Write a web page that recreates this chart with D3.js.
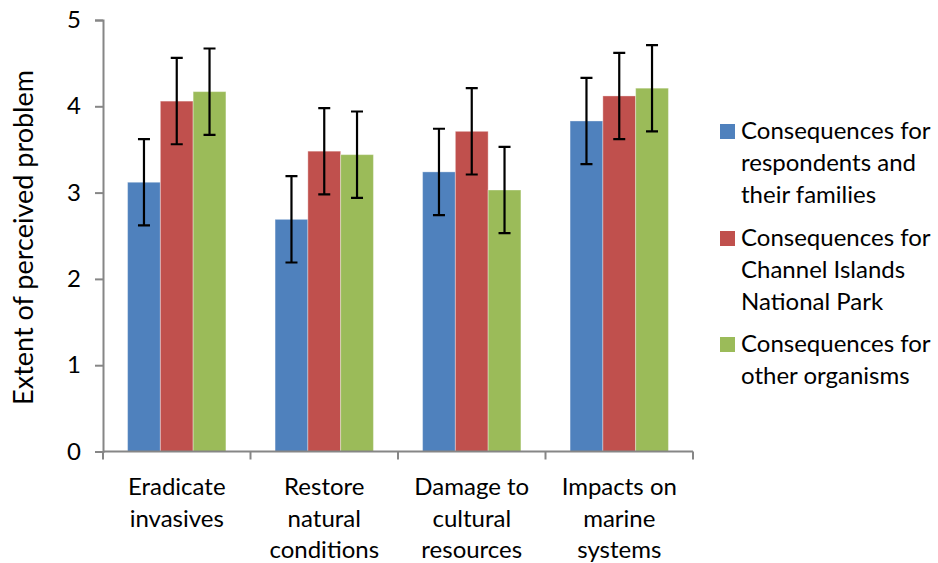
<!DOCTYPE html>
<html>
<head>
<meta charset="utf-8">
<script src="https://cdn.jsdelivr.net/npm/d3@7"></script>
<style>
  body { margin: 0; background: #fff; }
  svg text { font-family: Lato, "Open Sans", sans-serif; fill: #000; }
</style>
</head>
<body>
<script>
const categories = [
  ["Eradicate", "invasives"],
  ["Restore", "natural", "conditions"],
  ["Damage to", "cultural", "resources"],
  ["Impacts on", "marine", "systems"],
];
const seriesNames = [
  ["Consequences for", "respondents and", "their families"],
  ["Consequences for", "Channel Islands", "National Park"],
  ["Consequences for", "other organisms"],
];
const respondents = [3.12, 2.69, 3.24, 3.83];
const channelIslands = [4.06, 3.48, 3.71, 4.12];
const otherOrganisms = [4.17, 3.44, 3.03, 4.21];
const errRespondents = [0.5, 0.5, 0.5, 0.5];
const errChannel = [0.5, 0.5, 0.5, 0.5];
const errOther = [0.5, 0.5, 0.5, 0.5];
const yTicks = [0, 1, 2, 3, 4, 5];

const colors = ["#4F81BD", "#C0504D", "#9BBB59"];
const values = [respondents, channelIslands, otherOrganisms];
const errors = [errRespondents, errChannel, errOther];

const width = 938;
const height = 563;
const plot = { left: 103, right: 693, top: 20, bottom: 451.5 };

const svg = d3.select("body").append("svg")
  .attr("width", width)
  .attr("height", height);

const x0 = d3.scaleBand()
  .domain(d3.range(categories.length))
  .range([plot.left, plot.right])
  .paddingInner(0)
  .paddingOuter(0);

// Excel gap width 150%: bar = band / (3 + 1.5)
const barW = x0.bandwidth() / 4.5;
const x1 = d3.scaleBand()
  .domain(d3.range(values.length))
  .range([0, barW * 3]);

const y = d3.scaleLinear().domain([0, 5]).range([plot.bottom, plot.top]);

const axisColor = "#868686";

// bars
values.forEach((vals, s) => {
  svg.append("g")
    .selectAll("rect")
    .data(vals)
    .join("rect")
    .attr("x", (d, i) => x0(i) + barW * 0.75 + x1(s))
    .attr("y", (d) => y(d))
    .attr("width", barW)
    .attr("height", (d) => y(0) - y(d))
    .attr("fill", colors[s])
    .attr("stroke", "rgba(255,255,255,0.35)")
    .attr("stroke-width", 1);
});

// error bars
values.forEach((vals, s) => {
  const g = svg.append("g")
    .selectAll("g")
    .data(vals.map((v, i) => ({ v, e: errors[s][i], i })))
    .join("g")
    .attr("transform", (d) => `translate(${x0(d.i) + barW * 0.75 + x1(s) + barW / 2} 0)`);
  g.append("path")
    .attr("d", (d) => `M 0 ${y(d.v + d.e)} V ${y(d.v - d.e)} M -6 ${y(d.v + d.e)} h 12 M -6 ${y(d.v - d.e)} h 12`)
    .attr("fill", "none")
    .attr("stroke", "#000")
    .attr("stroke-width", 2.2);
});

// y axis
const yAxis = d3.axisLeft(y).tickValues(yTicks).tickSize(8).tickPadding(14).tickFormat(d3.format("d"));
const yg = svg.append("g")
  .attr("transform", `translate(${plot.left} 0)`)
  .call(yAxis);
yg.select(".domain").attr("stroke", axisColor).attr("stroke-width", 2);
yg.selectAll(".tick line").attr("stroke", axisColor).attr("stroke-width", 2);
yg.selectAll("text").attr("font-size", 24).attr("font-family", "Lato, sans-serif").attr("fill", "#000");

// x axis
const xg = svg.append("g").attr("transform", `translate(0 ${plot.bottom})`);
xg.append("path")
  .attr("d", `M ${plot.left} 0 H ${plot.right}`)
  .attr("stroke", axisColor)
  .attr("stroke-width", 2);
xg.selectAll("line")
  .data(d3.range(categories.length + 1))
  .join("line")
  .attr("x1", (d) => plot.left + d * x0.bandwidth())
  .attr("x2", (d) => plot.left + d * x0.bandwidth())
  .attr("y1", 0)
  .attr("y2", 8)
  .attr("stroke", axisColor)
  .attr("stroke-width", 2);

const xl = svg.append("g")
  .selectAll("text")
  .data(categories)
  .join("text")
  .attr("text-anchor", "middle")
  .attr("font-size", 24)
  .attr("transform", (d, i) => `translate(${x0(i) + x0.bandwidth() / 2} 495)`);
xl.selectAll("tspan")
  .data((d) => d)
  .join("tspan")
  .attr("x", 0)
  .attr("y", (d, j) => j * 31.7)
  .text((d) => d);

// y title
svg.append("text")
  .attr("transform", "translate(33 237.5) rotate(-90)")
  .attr("text-anchor", "middle")
  .attr("font-size", 27)
  .text("Extent of perceived problem");

// legend
const legendTops = [139, 246, 352];
const lg = svg.append("g")
  .selectAll("g")
  .data(seriesNames)
  .join("g")
  .attr("transform", (d, i) => `translate(720 ${legendTops[i]})`);
lg.append("rect")
  .attr("x", 0)
  .attr("y", -15)
  .attr("width", 15)
  .attr("height", 15)
  .attr("fill", (d, i) => colors[i]);
lg.append("text")
  .attr("font-size", 24)
  .selectAll("tspan")
  .data((d) => d)
  .join("tspan")
  .attr("x", 21)
  .attr("y", (d, j) => j * 32)
  .text((d) => d);
</script>
</body>
</html>
